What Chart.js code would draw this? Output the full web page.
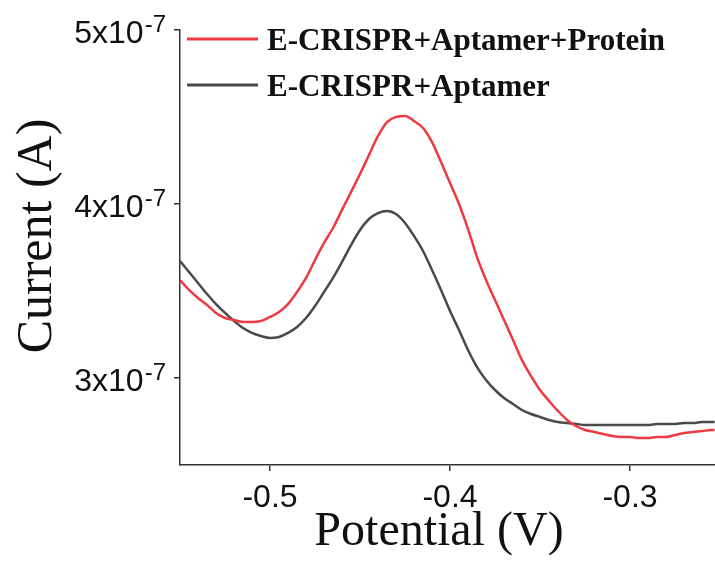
<!DOCTYPE html>
<html><head><meta charset="utf-8">
<script src="https://cdn.jsdelivr.net/npm/chart.js@4.4.1/dist/chart.umd.min.js"></script>
<style>html,body{margin:0;padding:0;background:#fff}#wrap{width:715px;height:562px;position:relative}</style>
</head><body><div id="wrap"><canvas id="c"></canvas></div>
<script>
// Potential (V)
const potential = [-0.550,-0.545,-0.540,-0.535,-0.530,-0.525,-0.520,-0.515,-0.510,-0.505,
  -0.500,-0.495,-0.490,-0.485,-0.480,-0.475,-0.470,-0.465,-0.460,-0.455,
  -0.450,-0.445,-0.440,-0.435,-0.430,-0.425,-0.420,-0.415,-0.410,-0.405,
  -0.400,-0.395,-0.390,-0.385,-0.380,-0.375,-0.370,-0.365,-0.360,-0.355,
  -0.350,-0.345,-0.340,-0.335,-0.330,-0.325,-0.320,-0.315,-0.310,-0.305,
  -0.300,-0.295,-0.290,-0.285,-0.280,-0.275,-0.270,-0.265,-0.260,-0.255,-0.253];
// Current in units of 1e-7 A
const currentProtein = [3.563,3.506,3.460,3.420,3.374,3.345,3.333,3.322,3.322,3.328,
  3.351,3.379,3.425,3.494,3.575,3.678,3.776,3.862,3.966,4.069,
  4.172,4.282,4.391,4.471,4.500,4.506,4.477,4.437,4.356,4.241,
  4.121,4.000,3.856,3.695,3.563,3.448,3.333,3.218,3.103,3.011,
  2.931,2.868,2.810,2.759,2.724,2.701,2.690,2.678,2.667,2.661,
  2.661,2.655,2.655,2.661,2.661,2.672,2.684,2.690,2.695,2.701,2.701];
const currentAptamer = [3.672,3.609,3.546,3.483,3.425,3.374,3.328,3.287,3.259,3.241,
  3.230,3.236,3.259,3.293,3.345,3.414,3.494,3.575,3.667,3.764,
  3.851,3.914,3.948,3.960,3.943,3.891,3.816,3.730,3.621,3.506,
  3.385,3.276,3.161,3.063,2.989,2.931,2.885,2.851,2.816,2.793,
  2.776,2.759,2.747,2.741,2.736,2.730,2.730,2.730,2.730,2.730,
  2.730,2.730,2.730,2.736,2.736,2.736,2.741,2.741,2.747,2.747,2.747];
const seriesLabels = ['E-CRISPR+Aptamer+Protein','E-CRISPR+Aptamer'];
const seriesColors = ['#EE3A43','#4A4A4A'];
const xTickValues = [-0.5,-0.4,-0.3];
const xTickLabels = ['-0.5','-0.4','-0.3'];
const yTickValues = [3,4,5];
const yTickMantissa = ['3x10','4x10','5x10'];
const yTickExponent = '-7';
const xTitle = 'Potential (V)';
const yTitle = 'Current (A)';

const AXIS = '#333333';
const textPlugin = {
  id:'texts',
  afterDraw(chart){
    const ctx = chart.ctx, xs = chart.scales.x, ys = chart.scales.y;
    ctx.save();
    ctx.fillStyle = '#111';
    yTickValues.forEach((v,i)=>{
      const py = ys.getPixelForValue(v);
      ctx.font = '24px "Liberation Sans", Arial, sans-serif';
      const ew = ctx.measureText(yTickExponent).width;
      ctx.textAlign = 'right'; ctx.textBaseline = 'alphabetic';
      const right = 166;
      ctx.fillText(yTickExponent, right, py + 2);
      ctx.font = '32px "Liberation Sans", Arial, sans-serif';
      ctx.fillText(yTickMantissa[i], right - ew - 1, py + 13);
    });
    ctx.font = '32px "Liberation Sans", Arial, sans-serif';
    ctx.textAlign = 'center'; ctx.textBaseline = 'alphabetic';
    xTickValues.forEach((v,i)=>{
      ctx.fillText(xTickLabels[i], xs.getPixelForValue(v), 507);
    });
    ctx.font = '48px "Liberation Serif", "DejaVu Serif", serif';
    ctx.fillText(xTitle, 439, 545);
    ctx.save();
    ctx.translate(51, 236);
    ctx.rotate(-Math.PI/2);
    ctx.textAlign = 'center';
    ctx.font = '50px "Liberation Serif", "DejaVu Serif", serif';
    ctx.fillText(yTitle, 0, 0);
    ctx.restore();
    ctx.font = 'bold 31px "Liberation Serif", "DejaVu Serif", serif';
    ctx.textAlign = 'left';
    chart.data.datasets.forEach((ds,i)=>{
      const ly = 39 + i*46;
      ctx.strokeStyle = ds.borderColor; ctx.lineWidth = 3;
      ctx.beginPath(); ctx.moveTo(187, ly); ctx.lineTo(258, ly); ctx.stroke();
      ctx.fillStyle = '#111';
      ctx.fillText(ds.label, 267, ly + 11);
    });
    ctx.restore();
  }
};

new Chart(document.getElementById('c'), {
  type:'line',
  data:{
    datasets:[
      {label:seriesLabels[0], data:potential.map((x,i)=>({x, y:currentProtein[i]})), borderColor:seriesColors[0], borderWidth:2.5, pointRadius:0, cubicInterpolationMode:'monotone', fill:false},
      {label:seriesLabels[1], data:potential.map((x,i)=>({x, y:currentAptamer[i]})), borderColor:seriesColors[1], borderWidth:2.5, pointRadius:0, cubicInterpolationMode:'monotone', fill:false}
    ]
  },
  options:{
    responsive:true, maintainAspectRatio:false, animation:false,
    layout:{padding:{top:30,right:0,left:0,bottom:0}},
    plugins:{legend:{display:false}, tooltip:{enabled:false}},
    scales:{
      x:{type:'linear', min:-0.55, max:-0.2528,
        afterBuildTicks:s=>{ s.ticks = xTickValues.map(v=>({value:v})); },
        afterFit:s=>{ s.height = 97; },
        ticks:{display:false},
        grid:{drawOnChartArea:false, drawTicks:true, tickLength:6, color:AXIS, lineWidth:1.5},
        border:{display:true, color:AXIS, width:1.5}},
      y:{type:'linear', min:2.5, max:5,
        afterBuildTicks:s=>{ s.ticks = yTickValues.map(v=>({value:v})); },
        afterFit:s=>{ s.width = 180; },
        ticks:{display:false},
        grid:{drawOnChartArea:false, drawTicks:true, tickLength:6, color:AXIS, lineWidth:1.5},
        border:{display:true, color:AXIS, width:1.5}}
    }
  },
  plugins:[textPlugin]
});
</script></body></html>
